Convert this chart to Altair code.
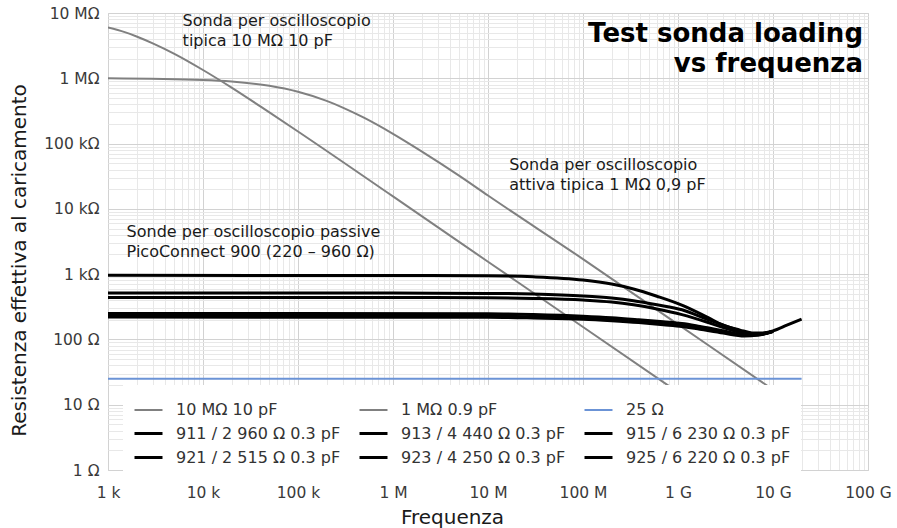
import altair as alt
import pandas as pd

FONT = "DejaVu Sans"

# ---------------- data ----------------
series_names = [
    "10 MΩ 10 pF", "1 MΩ 0.9 pF", "25 Ω",
    "911 / 2 960 Ω 0.3 pF", "913 / 4 440 Ω 0.3 pF", "915 / 6 230 Ω 0.3 pF",
    "921 / 2 515 Ω 0.3 pF", "923 / 4 250 Ω 0.3 pF", "925 / 6 220 Ω 0.3 pF",
]
series_colors = ["#808080", "#808080", "#6b93d6",
                 "#000000", "#000000", "#000000",
                 "#000000", "#000000", "#000000"]
series_widths = [2, 2, 2, 3, 3, 3, 3, 3, 3]

f_10m = [1e3, 1.5e3, 2e3, 3e3, 5e3, 1e4, 2e4, 5e4, 1e5, 1e6, 1e7, 1e8, 1.05e9]
r_10m = [6.0e6, 5.1e6, 4.37e6, 3.4e6, 2.37e6, 1.34e6, 7.2e5, 3.0e5, 1.53e5, 1.55e4, 1.55e3, 155, 14.8]

f_1m = [1e3, 1e4, 2e4, 5e4, 1e5, 2e5, 3e5, 5e5, 1e6, 2e6, 5e6, 1e7, 1e8, 1e9, 1e10]
r_1m = [1.0e6, 9.4e5, 8.9e5, 7.66e5, 6.2e5, 4.5e5, 3.53e5, 2.47e5, 1.41e5, 7.6e4, 3.2e4,
        1.6e4, 1.7e3, 170, 17]

f_25 = [1e3, 2e10]
r_25 = [25, 25]

f_911 = [1e3, 1e6, 1e7, 3e7, 1e8, 2e8, 3.4e8, 6e8, 1.13e9, 2e9, 3e9, 4.5e9, 6e9, 7.5e9, 1e10, 1.4e10, 2e10]
r_911 = [960, 955, 943, 910, 812, 704, 593, 459, 330, 222, 165, 139, 126, 125, 135, 165, 205]

f_mid = [1e3, 1e6, 1e7, 3e7, 1e8, 2e8, 3.4e8, 6e8, 1.1e9, 2e9, 3e9, 4.5e9, 5.5e9, 7e9, 1e10]
r_921 = [515, 512, 507, 495, 463, 430, 392, 340, 285, 205, 165, 135, 123, 120, 133]
r_913 = [440, 438, 434, 425, 402, 375, 340, 293, 240, 185, 152, 128, 119, 118, 133]

f_low = [1e3, 1e7, 3e7, 1e8, 2e8, 3.85e8, 7e8, 1.1e9, 1.7e9, 3e9, 5e9, 7e9, 1e10]
r_923 = [250, 248, 241, 227, 215, 200, 186, 175, 158, 136, 118, 120, 133]
r_915 = [230, 228, 222, 212, 201, 188, 175, 165, 149, 130, 115, 118, 133]
r_925 = [220, 218, 213, 204, 193, 181, 168, 158, 143, 125, 113, 117, 132]

x_tick_labels = ["1 k", "10 k", "100 k", "1 M", "10 M", "100 M", "1 G", "10 G", "100 G"]
y_tick_labels = ["1 Ω", "10 Ω", "100 Ω", "1 kΩ", "10 kΩ", "100 kΩ", "1 MΩ", "10 MΩ"]

ann_text = [
    "Sonda per oscilloscopio\ntipica 10 MΩ 10 pF",
    "Sonda per oscilloscopio\nattiva tipica 1 MΩ 0,9 pF",
    "Sonde per oscilloscopio passive\nPicoConnect 900 (220 – 960 Ω)",
]
ann_f = [6.1e3, 1.67e7, 1.57e3]
ann_r = [6.3e6, 4.0e4, 3.74e3]

title_text = "Test sonda loading\nvs frequenza"
title_f = 8.86e10
title_r = 3.62e6

# ---------------- build table ----------------
pairs = [
    (series_names[0], f_10m, r_10m),
    (series_names[1], f_1m, r_1m),
    (series_names[2], f_25, r_25),
    (series_names[3], f_911, r_911),
    (series_names[4], f_mid, r_913),
    (series_names[5], f_low, r_915),
    (series_names[6], f_mid, r_921),
    (series_names[7], f_low, r_923),
    (series_names[8], f_low, r_925),
]
rows = []
for name, fs, rs in pairs:
    for f, r in zip(fs, rs):
        rows.append({"series": name, "f": f, "R": r})
df = pd.DataFrame(rows)

x_vals = [m * 10 ** e for e in range(3, 11) for m in range(1, 10)] + [1e11]
y_vals = [m * 10 ** e for e in range(0, 7) for m in range(1, 10)] + [1e7]

major_test = "abs(log(datum.value)/LN10 - round(log(datum.value)/LN10)) < 0.001"
x_label_expr = (
    f"({major_test}) ? {x_tick_labels!r}[round(log(datum.value)/LN10) - 3] : ''"
)
y_label_expr = (
    f"({major_test}) ? {y_tick_labels!r}[round(log(datum.value)/LN10)] : ''"
)
grid_color = {"condition": {"test": major_test, "value": "#d2d2d2"}, "value": "#e8e8e8"}

x_scale = alt.Scale(type="log", domain=[1e3, 1e11], nice=False)
y_scale = alt.Scale(type="log", domain=[1, 1e7], nice=False)

x_axis = alt.Axis(
    values=x_vals, labelExpr=x_label_expr, title="Frequenza",
    grid=True, gridColor=grid_color, gridWidth=1, domain=False,
    ticks=False, tickSize=0, labelFont=FONT, labelFontSize=15.5,
    labelColor="#3a3a3a", labelBaseline="alphabetic", labelPadding=27,
    labelFlush=False, labelOverlap=False, labelBound=False,
    titleFont=FONT, titleFontSize=20, titleFontWeight="normal", titleColor="#1a1a1a",
    titleX=344, titleY=53, titleBaseline="alphabetic", titleAlign="center",
    titleAnchor="start",
)
y_axis = alt.Axis(
    values=y_vals, labelExpr=y_label_expr, title="Resistenza effettiva al caricamento",
    grid=True, gridColor=grid_color, gridWidth=1, domain=False,
    ticks=False, tickSize=0, labelFont=FONT, labelFontSize=15.5,
    labelColor="#3a3a3a", labelPadding=9, labelFlush=False, labelOverlap=False,
    labelBound=False,
    titleFont=FONT, titleFontSize=20, titleFontWeight="normal", titleColor="#1a1a1a",
    titleX=-83, titleY=247, titleBaseline="alphabetic", titleAlign="center",
    titleAngle=270, titleAnchor="start",
)

leg = alt.Legend(
    title=None, orient="none", legendX=15, legendY=372, columns=3, direction="horizontal",
    symbolType="stroke", symbolSize=784, labelFont=FONT, labelFontSize=16,
    labelColor="#333333", fillColor="white", padding=10, rowPadding=-5,
    columnPadding=12, labelOffset=12, labelLimit=300,
)

lines = alt.Chart(df).mark_line(interpolate="monotone", clip=True).encode(
    x=alt.X("f:Q", scale=x_scale, axis=x_axis),
    y=alt.Y("R:Q", scale=y_scale, axis=y_axis),
    color=alt.Color("series:N", scale=alt.Scale(domain=series_names, range=series_colors),
                    sort=series_names, legend=leg),
    strokeWidth=alt.StrokeWidth("series:N",
                                scale=alt.Scale(type="ordinal", domain=series_names, range=series_widths),
                                sort=series_names, legend=leg),
    detail="series:N",
)

ann_df = pd.DataFrame({"f": ann_f, "R": ann_r, "text": ann_text})
ann = alt.Chart(ann_df).mark_text(
    align="left", baseline="alphabetic", font=FONT, fontSize=16,
    color="#1a1a1a", lineBreak="\n", lineHeight=20,
).encode(x=alt.X("f:Q", scale=x_scale), y=alt.Y("R:Q", scale=y_scale), text="text:N")

title_df = pd.DataFrame({"f": [title_f], "R": [title_r], "text": [title_text]})
ttl = alt.Chart(title_df).mark_text(
    align="right", baseline="alphabetic", font=FONT, fontSize=26, fontWeight="bold",
    color="#000000", lineBreak="\n", lineHeight=30,
).encode(x=alt.X("f:Q", scale=x_scale), y=alt.Y("R:Q", scale=y_scale), text="text:N")

chart = alt.layer(lines, ann, ttl).properties(
    width=760, height=457,
    autosize=alt.AutoSizeParams(type="none"),
    padding={"left": 108, "top": 13, "right": 29, "bottom": 58},
    background="white",
).configure_view(stroke="#d2d2d2", strokeWidth=1)

chart.save("out.html", embed_options={"renderer": "svg", "actions": False})
